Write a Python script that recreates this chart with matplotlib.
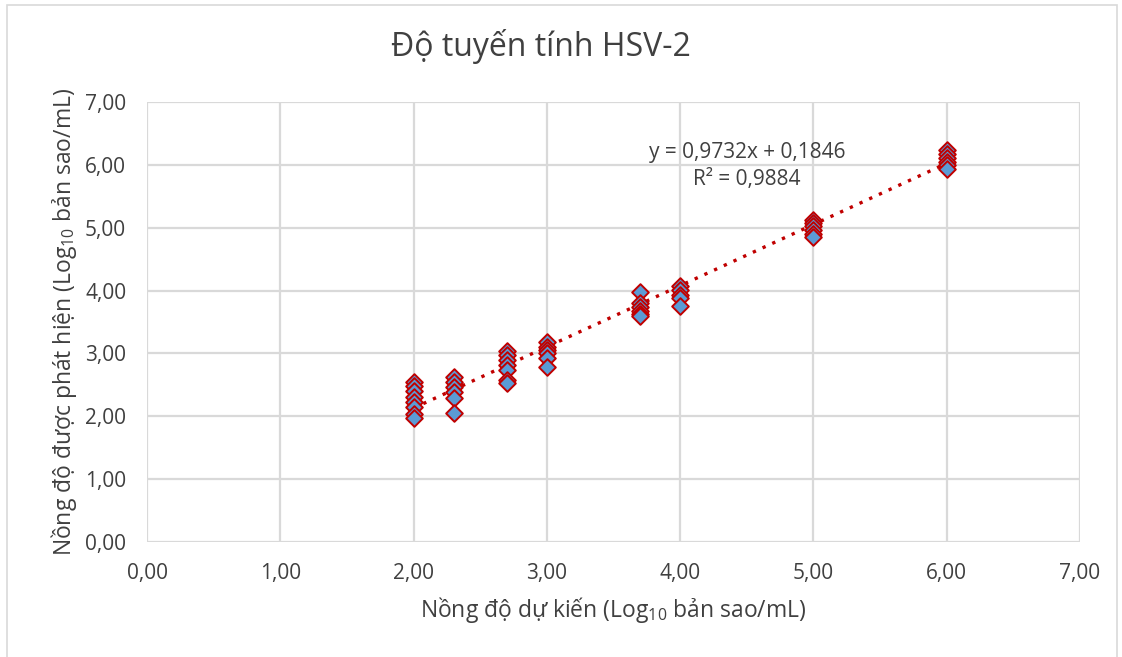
import matplotlib

matplotlib.use('Agg')

import matplotlib.pyplot as plt
import numpy as np
from matplotlib.patches import Rectangle
from matplotlib.ticker import FuncFormatter

plt.rcParams['font.family'] = ['Open Sans', 'DejaVu Sans']
plt.rcParams['mathtext.fontset'] = 'custom'
plt.rcParams['mathtext.rm'] = 'Open Sans'

# expected concentration (log10) and detected values per level
expected_x = [2.0] * 8 + [2.3] * 6 + [2.7] * 7 + [3.0] * 6 + [3.7] * 6 + [4.0] * 5 + [5.0] * 6 + [6.0] * 6
detected_y = [
    2.54, 2.48, 2.40, 2.31, 2.23, 2.15, 2.03, 1.97,
    2.62, 2.55, 2.46, 2.38, 2.29, 2.06,
    3.04, 2.97, 2.90, 2.81, 2.74, 2.58, 2.53,
    3.18, 3.10, 3.05, 3.00, 2.93, 2.79,
    3.98, 3.80, 3.74, 3.68, 3.63, 3.60,
    4.08, 4.01, 3.93, 3.88, 3.76,
    5.13, 5.07, 5.02, 4.97, 4.90, 4.85,
    6.24, 6.17, 6.11, 6.05, 6.00, 5.93,
]
slope = 0.9732
intercept = 0.1846
r_squared = 0.9884

TITLE = 'Độ tuyến tính HSV-2'
X_LABEL = 'Nồng độ dự kiến (Log$_{10}$ bản sao/mL)'
Y_LABEL = 'Nồng độ được phát hiện (Log$_{10}$ bản sao/mL)'

W, H = 1122, 657
fig = plt.figure(figsize=(W / 100, H / 100), dpi=100)
fig.subplots_adjust(left=147 / W, right=1080 / W, top=1 - 102 / H, bottom=1 - 542 / H)
ax = fig.add_subplot(111)

fig.patches.append(Rectangle((7 / W, -0.01), 1110 / W, 1 - 5 / H + 0.01,
                             transform=fig.transFigure, fill=False,
                             edgecolor='#d9d9d9', linewidth=1.2))

line_x = np.array([min(expected_x), max(expected_x)])
ax.plot(line_x, slope * line_x + intercept, color='#c00000', linestyle=(0, (1, 2.2)),
        linewidth=2.4, zorder=2)
ax.scatter(expected_x, detected_y, marker='D', s=72, facecolor='#5b9bd5',
           edgecolor='#c00000', linewidth=1.4, zorder=3)

ax.set_xlim(0, 7)
ax.set_ylim(0, 7)
ax.set_xticks(np.arange(0, 8, 1))
ax.set_yticks(np.arange(0, 8, 1))
comma = FuncFormatter(lambda v, p: f'{v:.2f}'.replace('.', ','))
ax.xaxis.set_major_formatter(comma)
ax.yaxis.set_major_formatter(comma)
ax.tick_params(length=0, labelsize=15, labelcolor='#404040')
ax.tick_params(axis='x', pad=15)
ax.tick_params(axis='y', pad=15)
ax.grid(True, color='#d9d9d9', linewidth=1.6)
ax.set_axisbelow(True)
for s in ax.spines.values():
    s.set_visible(False)

eq = f'y = {slope:.4f}x + {intercept:.4f}'.replace('.', ',')
r2 = f'R² = {r_squared:.4f}'.replace('.', ',')
ax.text(4.50, 6.20, eq, ha='center', va='center', fontsize=15, color='#404040')
ax.text(4.50, 5.76, r2, ha='center', va='center', fontsize=15, color='#404040')

fig.text(541 / W, 1 - 47 / H, TITLE, ha='center', va='center', fontsize=23, color='#404040')
ax.set_xlabel(X_LABEL, fontsize=16.5, color='#404040', labelpad=8)
ax.set_ylabel(Y_LABEL, fontsize=16.5, color='#404040', labelpad=4)

fig.savefig('out.png', dpi=100, facecolor='white')
